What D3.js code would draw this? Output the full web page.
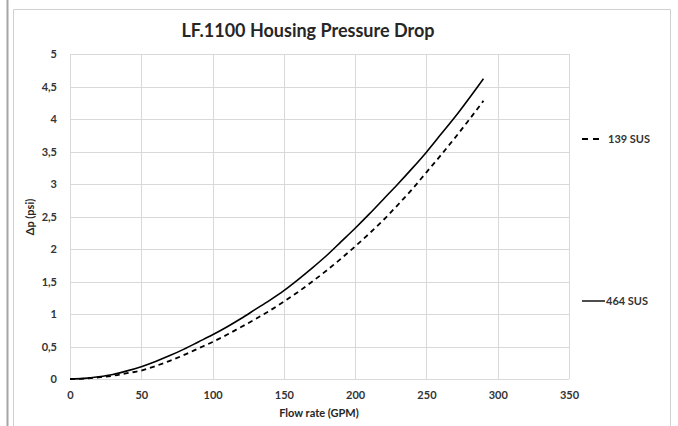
<!DOCTYPE html>
<html><head><meta charset="utf-8">
<script src="https://cdn.jsdelivr.net/npm/d3@7"></script>
<style>
html,body{margin:0;padding:0;background:#fff;}
svg{display:block;}
text{font-family:Lato,"Open Sans",sans-serif;font-weight:bold;}
</style></head>
<body>
<svg id="c" width="678" height="426"></svg>
<script>
const flow = [0,10,20,30,40,50,60,70,80,90,100,110,120,130,140,150,160,170,180,190,200,210,220,230,240,250,260,270,280,290];
const sus464 = [0,0.01,0.035,0.07,0.125,0.19,0.27,0.36,0.46,0.57,0.68,0.80,0.93,1.07,1.21,1.36,1.53,1.71,1.90,2.11,2.32,2.54,2.77,3.00,3.24,3.49,3.76,4.03,4.32,4.62];
const sus139 = [0,0.006,0.025,0.05,0.09,0.13,0.20,0.28,0.37,0.47,0.57,0.68,0.80,0.92,1.05,1.19,1.34,1.50,1.67,1.85,2.04,2.24,2.45,2.68,2.92,3.18,3.44,3.71,3.99,4.28];
const xTicks = [0,50,100,150,200,250,300,350];
const yTicks = [0,0.5,1,1.5,2,2.5,3,3.5,4,4.5,5];
const seriesNames = ["139 SUS","464 SUS"];
const title = "LF.1100 Housing Pressure Drop";
const xTitle = "Flow rate (GPM)";
const yTitle = "Δp (psi)";

const svg = d3.select("#c");
// frame
svg.append("line").attr("x1",7.5).attr("x2",7.5).attr("y1",0).attr("y2",426).attr("stroke","#a6a6a6").attr("stroke-width",2);
svg.append("path").attr("d","M13.5,426V9.5H670.5V426").attr("fill","none").attr("stroke","#d0d0d0").attr("stroke-width",1);

const x = d3.scaleLinear().domain([0,350]).range([70,569]);
const y = d3.scaleLinear().domain([0,5]).range([379,54]);
const fmt = d => String(d).replace(".", ",");

// grid
svg.append("g").selectAll("line").data(yTicks).join("line")
  .attr("x1",x(0)).attr("x2",x(350)).attr("y1",d=>Math.round(y(d))+0.5).attr("y2",d=>Math.round(y(d))+0.5)
  .attr("stroke","#d9d9d9").attr("stroke-width",1);
svg.append("g").selectAll("line").data(xTicks).join("line")
  .attr("y1",y(0)).attr("y2",y(5)).attr("x1",d=>Math.round(x(d))+0.5).attr("x2",d=>Math.round(x(d))+0.5)
  .attr("stroke","#d9d9d9").attr("stroke-width",1);

// axes labels via d3 axes
const xAxis = svg.append("g").attr("transform",`translate(0,${y(0)})`)
  .call(d3.axisBottom(x).tickValues(xTicks).tickFormat(fmt).tickSize(0).tickPadding(12));
const yAxis = svg.append("g").attr("transform",`translate(${x(0)},0)`)
  .call(d3.axisLeft(y).tickValues(yTicks).tickFormat(fmt).tickSize(0).tickPadding(13));
[xAxis,yAxis].forEach(a=>{
  a.select(".domain").remove();
  a.selectAll("text").attr("font-size",11).attr("fill","#333").attr("font-family","Lato,sans-serif").attr("font-weight","bold");
});

// lines
const line = d3.line().x((d,i)=>x(flow[i])).y(d=>y(d)).curve(d3.curveMonotoneX);
svg.append("path").datum(sus139).attr("d",line).attr("fill","none").attr("stroke","#000").attr("stroke-width",1.8).attr("stroke-dasharray","5,4");
svg.append("path").datum(sus464).attr("d",line).attr("fill","none").attr("stroke","#000").attr("stroke-width",1.6);

// titles
svg.append("text").attr("x",308).attr("y",37).attr("text-anchor","middle").attr("font-size",18).attr("fill","#262626").text(title);
svg.append("text").attr("x",319).attr("y",417).attr("text-anchor","middle").attr("font-size",11).attr("fill","#262626").text(xTitle);
svg.append("text").attr("transform","translate(34,217) rotate(-90)").attr("text-anchor","middle").attr("font-size",11).attr("fill","#262626").text(yTitle);

// legend
const leg = [{name:seriesNames[0],y:139,dash:"6,5",x2:601,tx:608},{name:seriesNames[1],y:301,dash:null,x2:605,tx:606}];
leg.forEach(l=>{
  svg.append("line").attr("x1",582).attr("x2",l.x2).attr("y1",l.y).attr("y2",l.y).attr("stroke","#000").attr("stroke-width",l.dash?1.8:1.4).attr("stroke-dasharray",l.dash);
  svg.append("text").attr("x",l.tx).attr("y",l.y+4).attr("font-size",11).attr("fill","#333").text(l.name);
});
</script>
</body></html>
